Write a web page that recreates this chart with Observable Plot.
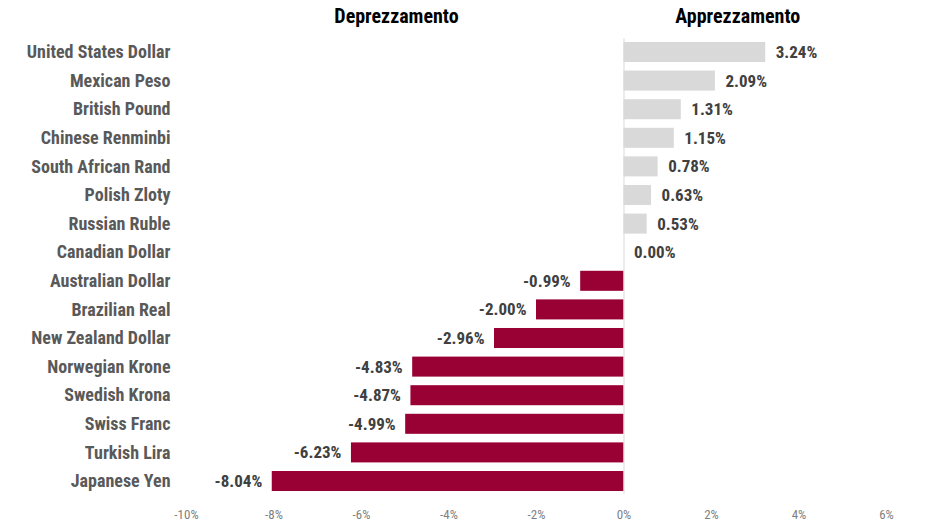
<!DOCTYPE html>
<html>
<head>
<meta charset="utf-8">
<script src="https://cdn.jsdelivr.net/npm/d3@7"></script>
<script src="https://cdn.jsdelivr.net/npm/@observablehq/plot@0.6"></script>
<style>
  html, body { margin: 0; padding: 0; background: #fff; }
  #chart svg { display: block; }
</style>
</head>
<body>
<div id="chart"></div>
<script>
const currencies = [
  "United States Dollar", "Mexican Peso", "British Pound", "Chinese Renminbi",
  "South African Rand", "Polish Zloty", "Russian Ruble", "Canadian Dollar",
  "Australian Dollar", "Brazilian Real", "New Zealand Dollar", "Norwegian Krone",
  "Swedish Krona", "Swiss Franc", "Turkish Lira", "Japanese Yen"
];
const changes = [3.24, 2.09, 1.31, 1.15, 0.78, 0.63, 0.53, 0.00,
  -0.99, -2.00, -2.96, -4.83, -4.87, -4.99, -6.23, -8.04];
const xTicks = [-10, -8, -6, -4, -2, 0, 2, 4, 6];
const headers = ["Deprezzamento", "Apprezzamento"];
const headerX = [-5.2, 2.6];

const data = currencies.map((c, i) => ({currency: c, value: changes[i]}));
const pos = data.filter(d => d.value >= 0);
const neg = data.filter(d => d.value < 0);
const headerData = headers.map((h, i) => ({label: h, x: headerX[i]}));
const fmt = v => v.toFixed(2) + "%";
const font = "'Roboto Condensed', 'DejaVu Sans Condensed', sans-serif";

const plot = Plot.plot({
  width: 928,
  height: 524,
  marginTop: 33.4,
  marginBottom: 24.4,
  marginLeft: 186,
  marginRight: 42,
  style: {fontFamily: font, background: "#fff"},
  x: {domain: [-10, 6]},
  y: {domain: currencies, padding: 0.3, round: false},
  marks: [
    Plot.barX(data, {
      x: "value", y: "currency",
      fill: d => d.value >= 0 ? "#d9d9d9" : "#990033"
    }),
    Plot.ruleX([0], {stroke: "#d9d9d9", strokeWidth: 1, insetTop: 5, insetBottom: 6}),
    Plot.text(pos, {
      x: "value", y: "currency", text: d => fmt(d.value),
      textAnchor: "start", dx: 10,
      fill: "#404040", fontWeight: "bold", fontSize: 17
    }),
    Plot.text(neg, {
      x: "value", y: "currency", text: d => fmt(d.value),
      textAnchor: "end", dx: -10,
      fill: "#404040", fontWeight: "bold", fontSize: 17
    }),
    Plot.axisY({tickSize: 0, tickPadding: 16, label: null, fontSize: 18, fontWeight: "bold", fill: "#595959"}),
    Plot.axisX({tickSize: 0, tickPadding: 10, label: null, fontSize: 13, fill: "#7f7f7f", ticks: xTicks, tickFormat: d => d + "%"}),
    Plot.text(headerData, {
      x: "x", frameAnchor: "top", dy: -11, text: "label",
      fontSize: 20, fontWeight: "bold", fill: "#000", lineAnchor: "bottom"
    })
  ]
});
document.getElementById("chart").appendChild(plot);
</script>
</body>
</html>
